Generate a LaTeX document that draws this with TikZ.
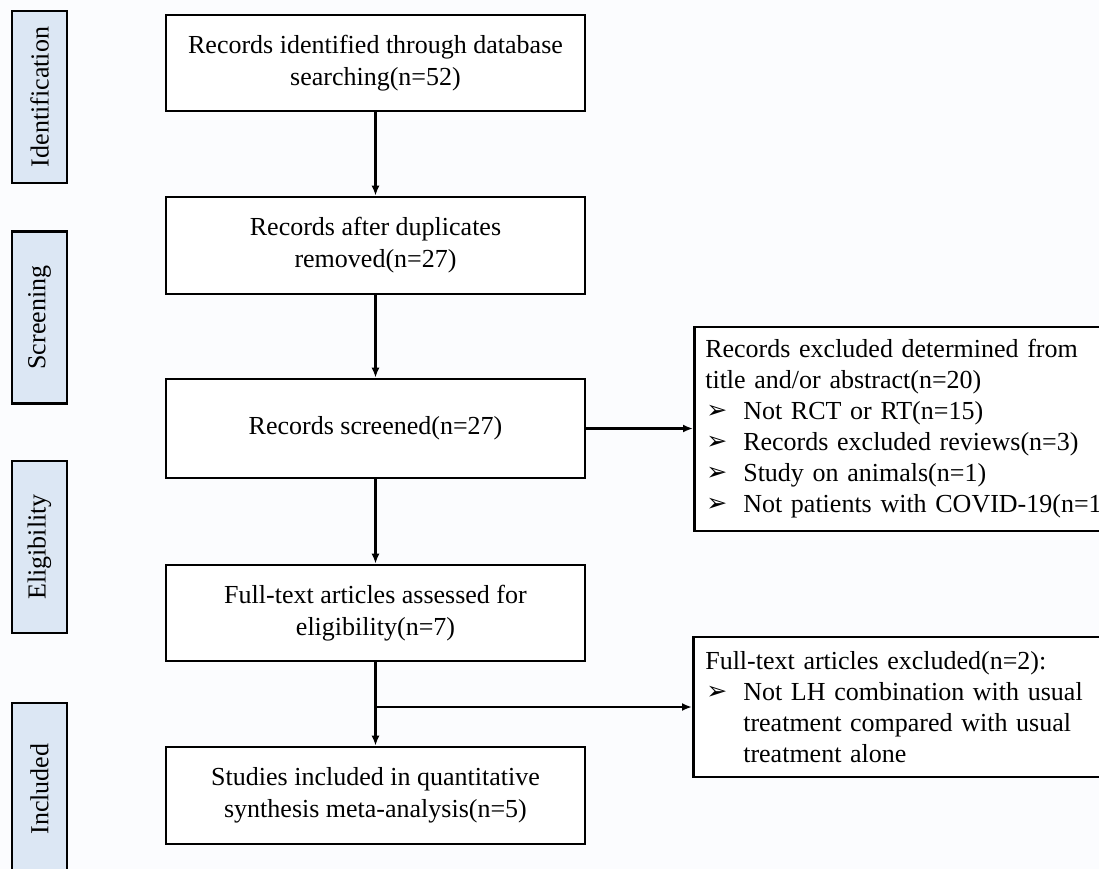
\documentclass[tikz,border=0pt]{standalone}
\usepackage{fontspec}
\setmainfont{Liberation Serif}
\newfontfamily\bulletfont{DejaVu Sans}
\usetikzlibrary{arrows.meta}
\definecolor{bgcol}{HTML}{FBFCFE}
\definecolor{sidecol}{HTML}{DCE7F4}
\newcommand{\bul}{\makebox[38pt][l]{\hspace*{1pt}\raisebox{1pt}{\bulletfont\fontsize{25}{24}\selectfont ➢}}}
\tikzset{
  mainbox/.style={draw=black, line width=2.6pt, fill=white, minimum width=419pt, align=center, inner sep=0pt, font=\fontsize{26}{32}\selectfont},
  sidebox/.style={draw=black, line width=2.6pt, fill=sidecol, rotate=90, minimum width=172pt, minimum height=55pt, inner sep=0pt, font=\fontsize{26}{32}\selectfont},
  exbox/.style={draw=black, line width=2.6pt, fill=white, anchor=west, minimum width=460pt, text width=460pt, align=left, inner sep=0pt, font=\fontsize{26}{31}\selectfont},
  arr/.style={line width=2.2pt, -{Latex[length=10pt,width=8pt]}}
}
\begin{document}
\begin{tikzpicture}[x=1pt, y=-1pt]
\clip (0,0) rectangle (1099,869);
\useasboundingbox (0,0) rectangle (1099,869);
\fill[bgcol] (0,0) rectangle (1099,869);

% side labels
\node[sidebox] (sid) at (39.5,97) {Identification};
\node[sidebox] (sscr) at (39.5,317.5) {Screening};
\node[sidebox] (selg) at (39.5,547) {Eligibility};
\node[sidebox] (sinc) at (39.5,789) {Included};

% main boxes
\node[mainbox, minimum height=96pt] (b1) at (375.5,63) {Records identified through database\\searching(n=52)};
\node[mainbox, minimum height=97pt] (b2) at (375.5,245.5) {Records after duplicates\\removed(n=27)};
\node[mainbox, minimum height=99pt] (b3) at (375.5,428.5) {Records screened(n=27)};
\node[mainbox, minimum height=96pt] (b4) at (375.5,613) {Full-text articles assessed for\\eligibility(n=7)};
\node[mainbox, minimum height=97pt] (b5) at (375.5,795.5) {Studies included in quantitative\\synthesis meta-analysis(n=5)};

% exclusion boxes
\node[exbox, minimum height=204pt] (r1) at (693,429) {\hspace*{11pt}Records excluded determined from\\
\hspace*{11pt}title and/or abstract(n=20)\\
\hspace*{11pt}\bul Not RCT or RT(n=15)\\
\hspace*{11pt}\bul Records excluded reviews(n=3)\\
\hspace*{11pt}\bul Study on animals(n=1)\\
\hspace*{11pt}\bul Not patients with COVID-19(n=1)};
\node[exbox, minimum height=140pt] (r2) at (692,707) {\hspace*{12pt}Full-text articles excluded(n=2):\\
\hspace*{12pt}\bul Not LH combination with usual\\
\hspace*{12pt}\hspace*{38pt}treatment compared with usual\\
\hspace*{12pt}\hspace*{38pt}treatment alone};

% connectors
\draw[arr] (b1.south) -- (b2.north);
\draw[arr] (b2.south) -- (b3.north);
\draw[arr] (b3.south) -- (b4.north);
\draw[arr] (b4.south) -- (b5.north);
\draw[arr] (b3.east) -- (b3.east -| r1.west);
\coordinate (br) at (b4.south |- r2.west);
\draw[arr] (br) -- (r2.west);
\end{tikzpicture}
\end{document}
